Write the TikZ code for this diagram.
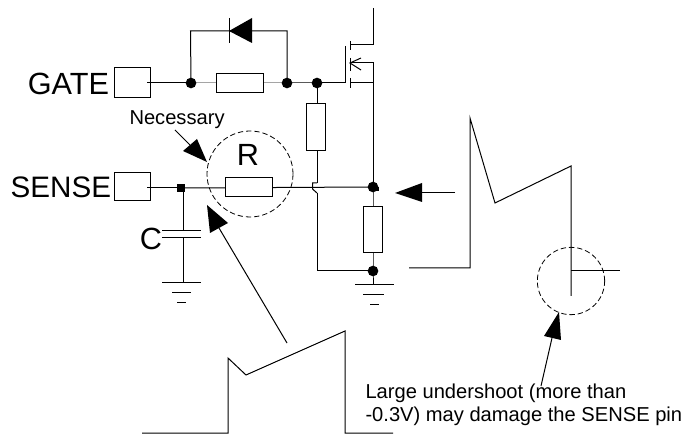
\documentclass[tikz,border=0pt]{standalone}
\usepackage{fontspec}
\setmainfont{Liberation Sans}
\begin{document}
\begin{tikzpicture}[x=0.75pt,y=-0.75pt,line width=0.75pt,
  pinbox/.style={draw,fill=white,inner sep=0pt,minimum width=27pt},
  reshoriz/.style={draw,fill=white,inner sep=0pt,minimum width=35pt,minimum height=14.5pt},
  resvert/.style={draw,fill=white,inner sep=0pt,minimum width=14pt,minimum height=35pt},
  dotround/.style={circle,fill=black,inner sep=0pt,minimum size=8pt},
  dotsquare/.style={rectangle,fill=black,inner sep=0pt,minimum size=6.5pt},
  biglabel/.style={font=\fontsize{23}{25}\selectfont,inner sep=0pt},
  senselabel/.style={font=\fontsize{22.2}{25}\selectfont,inner sep=0pt},
  smalllabel/.style={font=\fontsize{15.1}{19}\selectfont,inner sep=0pt},
  dashcircle/.style={draw,circle,dashed,dash pattern=on 4pt off 2.2pt,inner sep=0pt,line width=0.6pt},
  headfill/.style={fill=black,draw=none},
  wave/.style={line width=0.75pt,line join=miter}]
\useasboundingbox (0,0) rectangle (685,434);
% coordinates
\coordinate (gwire) at (147,83);
\coordinate (loopL) at (190.5,31);
\coordinate (loopR) at (287,31);
\coordinate (gateEnd) at (345,83);
\coordinate (gateTop) at (345,46);
\coordinate (drainIn) at (350,45);
\coordinate (drainC) at (373,45);
\coordinate (drainTop) at (373,8);
\coordinate (srcIn) at (350,63);
\coordinate (srcC) at (373,63);
\coordinate (subIn) at (350,83);
\coordinate (subC) at (373,83);
\coordinate (swire) at (147,188);
\coordinate (jumpT) at (317,183);
\coordinate (jumpB) at (317,193);
\coordinate (gndA) at (183,283);
\coordinate (gndB) at (373,285);
\coordinate (capT) at (183,231);
\coordinate (capB) at (183,238);
% wires first
\node[dotround] (j1) at (191,83) {};
\node[dotround] (j2) at (287,83) {};
\node[dotround] (j3) at (317,83) {};
\node[dotsquare] (j4) at (181,188) {};
\node[dotround] (j5) at (373,187) {};
\node[dotround] (j6) at (373,271) {};
\draw (j1.center) -- (j2.center) -- (gateEnd);
\draw (gateTop) -- (gateEnd);
\draw (j1.center) -- (loopL) -- (loopR) -- (j2.center);
\draw (j4.center) -- (j5.center);
\draw (drainTop) -- (drainC) -- (drainIn);
\draw (350,41) -- (350,50);
\draw (350,58) -- (350,71);
\draw (350,78) -- (350,88);
\draw (srcIn) -- (srcC) -- (j5.center);
\draw (subIn) -- (subC);
\draw (361,58) -- (srcIn) -- (361,70);
\draw (j5.center) -- (j6.center) -- (gndB);
\draw (j3.center) -- (jumpT);
\draw (jumpT) -- (312.5,183) -- (312.5,189) -- (jumpB);
\draw (jumpB) -- (317,271) -- (j6.center);
\draw (183,188) -- (capT);
\draw (capB) -- (gndA);
% components
\node[pinbox,minimum height=22.5pt] (gate) at (132,83) {};
\node[pinbox,minimum height=21pt] (sense) at (132,187) {};
\draw (gwire) -- (j1.center);
\draw (swire) -- (j4.center);
\node[reshoriz] (r1) at (240,83) {};
\node[resvert] (r2) at (316,127) {};
\node[reshoriz] (r3) at (249,187) {};
\node[resvert] (r4) at (373,229.5) {};
\fill (j5.center) rectangle (379,191.5);
\fill (283,79.5) rectangle (291,86.5);
% diode
\draw (229,18) -- (229,43);
\path[headfill] (229,31) -- (252,18) -- (252,43) -- cycle;
% capacitor and grounds
\draw (162,231) -- (201,231);
\draw (162,238) -- (201,238);
\draw (162,283) -- (201,283);
\draw (172,293) -- (191,293);
\draw (177,303) -- (186,303);
\draw (355,285) -- (394,285);
\draw (363,295) -- (384,295);
\draw (370,305) -- (379,305);
% circles
\node[dashcircle,minimum size=64.5pt] (c1) at (250,174) {};
\node[dashcircle,minimum size=50.5pt] (c2) at (571,281) {};
% arrows
\coordinate (a1s) at (175,130);
\coordinate (a1b) at (190,145);
\draw (a1s) -- (a1b);
\path[headfill] (207,162) -- (183,151) -- (197,139) -- cycle;
\coordinate (a2s) at (287,343);
\coordinate (a2b) at (219,228);
\draw (a2s) -- (a2b);
\path[headfill] (207,205) -- (210,233) -- (228,223) -- cycle;
\coordinate (a3s) at (455,193);
\coordinate (a3b) at (422,193);
\draw (a3s) -- (a3b);
\path[headfill] (395,193) -- (422,183) -- (422,202) -- cycle;
\coordinate (a4s) at (541,386);
\coordinate (a4b) at (552,338);
\draw (a4s) -- (a4b);
\path[headfill] (559,312) -- (544,336) -- (561,340) -- cycle;
% waveforms
\draw[wave] (409,268) -- (470,268) -- (470,118) -- (495,203) -- (571,166) -- (571,296);
\draw[wave] (571,271) -- (620,271);
\draw[wave] (142,433) -- (228,433) -- (228,358) -- (246,375) -- (345,331) -- (345,433) -- (393,433);
% labels
\node[biglabel,anchor=base east] (tgate) at (109.5,95) {GATE};
\node[senselabel,anchor=base east] (tsense) at (111.5,198) {SENSE};
\node[biglabel,anchor=center] (tr) at (248,155) {R};
\node[biglabel,anchor=center] (tc) at (151,239) {C};
\node[smalllabel,anchor=base west] (tn) at (129,125) {Necessary};
\node[smalllabel,anchor=base west] (t1) at (365,398) {Large undershoot (more than};
\node[smalllabel,anchor=base west] (t2) at (365,421) {-0.3V) may damage the SENSE pin};
\end{tikzpicture}
\end{document}
